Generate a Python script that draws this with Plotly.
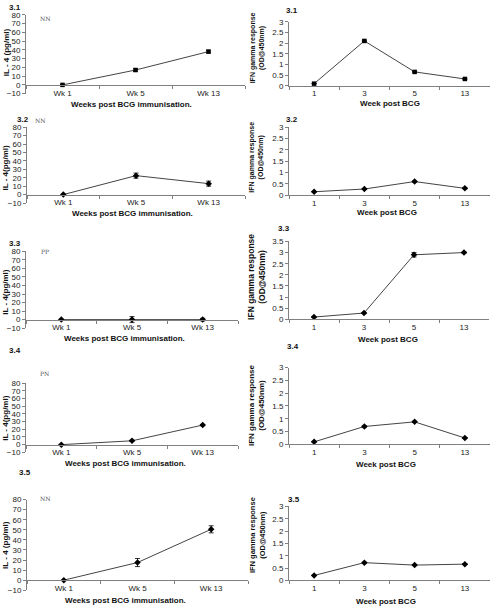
import plotly.graph_objects as go

W, H = 499, 611

# ---------------- data ----------------
il4_weeks = ["Wk 1", "Wk 5", "Wk 13"]
ifn_weeks = ["1", "3", "5", "13"]
panel_ids = ["3.1", "3.2", "3.3", "3.4", "3.5"]
group_tags = ["NN", "NN", "PP", "PN", "NN"]

il4_31 = [0, 17, 38]
il4_31_err = [0, 1.5, 1.5]
il4_32 = [0, 22.5, 13]
il4_32_err = [0, 3, 3]
il4_33 = [0, 0, 0]
il4_33_err = [0, 3.5, 1.5]
il4_34 = [0, 5, 25.5]
il4_34_err = [0, 0.8, 0.8]
il4_35 = [0, 17.5, 50.5]
il4_35_err = [0, 4, 3.5]

ifn_31 = [0.1, 2.1, 0.65, 0.32]
ifn_31_err = [0, 0.03, 0.02, 0.02]
ifn_32 = [0.15, 0.27, 0.6, 0.3]
ifn_32_err = [0, 0.02, 0.02, 0.02]
ifn_33 = [0.1, 0.28, 2.9, 3.0]
ifn_33_err = [0, 0.02, 0.1, 0.02]
ifn_34 = [0.1, 0.7, 0.88, 0.25]
ifn_34_err = [0, 0.03, 0.02, 0.02]
ifn_35 = [0.2, 0.72, 0.62, 0.66]
ifn_35_err = [0, 0.02, 0.02, 0.02]

il4_series = [(il4_31, il4_31_err), (il4_32, il4_32_err), (il4_33, il4_33_err),
              (il4_34, il4_34_err), (il4_35, il4_35_err)]
ifn_series = [(ifn_31, ifn_31_err), (ifn_32, ifn_32_err), (ifn_33, ifn_33_err),
              (ifn_34, ifn_34_err), (ifn_35, ifn_35_err)]

il4_titles = ["IL - 4 (pg/ml)", "IL - 4(pg/ml)", "IL - 4(pg/ml)", "IL - 4(pg/ml)", "IL - 4 (pg/ml)"]
il4_xtitle = "Weeks post BCG immunisation."
ifn_ytitle = "IFN gamma response<br>(OD@450nm)"
ifn_xtitle = "Week post BCG"
il4_range = [-10, 80]
ifn_ranges = [[0, 3], [0, 3], [0, 3.5], [0, 3], [0, 3]]

# ---------------- layout geometry (pixels) ----------------
left_geo = [
    dict(x0=26, x1=245, yt=11, yb=91, xt=(131, 102), yy=49, lab=(15, 4), tag=(45, 15)),
    dict(x0=27, x1=245, yt=125, yb=202, xt=(132, 213), yy=166, lab=(23, 117), tag=(40, 118)),
    dict(x0=26, x1=238, yt=251, yb=329, xt=(125, 339), yy=292, lab=(15, 243), tag=(45, 251)),
    dict(x0=26, x1=238, yt=385, yb=455, xt=(126, 466), yy=420, lab=(15, 352), tag=(44, 375)),
    dict(x0=27, x1=248, yt=503, yb=595, xt=(126, 605), yy=549, lab=(25, 476), tag=(45, 502)),
]
right_geo = [
    dict(x0=289, x1=490, yt=18, yb=83, xt=(390, 101), yy=45, lab=(292, 7), fs=7),
    dict(x0=289, x1=490, yt=125, yb=194, xt=(387, 212), yy=156, lab=(292, 117), fs=7),
    dict(x0=289, x1=489, yt=241, yb=320, xt=(388, 341), yy=277, lab=(284, 228), fs=8.5),
    dict(x0=289, x1=490, yt=369, yb=447, xt=(386, 467), yy=408, lab=(293, 348), fs=8),
    dict(x0=289, x1=490, yt=510, yb=585, xt=(386, 606), yy=539, lab=(294, 503), fs=7.5),
]

FONT = "Arial, Liberation Sans, sans-serif"
AX = "#808080"
LINE = "#444444"


def PX(x):
    return x / W


def PY(y):
    return 1 - y / H


fig = go.Figure()
annotations = []
layout = {}
n = 0


def add_panel(xcats, yvals, yerr, yrange, geo, symbol, ytitle, yt_font, xtitle, dtick, free_x):
    global n
    n += 1
    xa = "xaxis" if n == 1 else f"xaxis{n}"
    ya = "yaxis" if n == 1 else f"yaxis{n}"
    xr = "x" if n == 1 else f"x{n}"
    yr = "y" if n == 1 else f"y{n}"
    fig.add_trace(go.Scatter(
        x=xcats, y=yvals, xaxis=xr, yaxis=yr, mode="lines+markers",
        line=dict(color=LINE, width=1),
        marker=dict(symbol=symbol, size=4.5 if symbol == "square" else 5, color="#000000"),
        error_y=dict(type="data", array=yerr, visible=True, color="#000000", thickness=0.8, width=2.5),
        showlegend=False, cliponaxis=False,
    ))
    ydom = [PY(geo["yb"]), PY(geo["yt"])]
    xdom = [PX(geo["x0"]), PX(geo["x1"])]
    if free_x:
        zero_pos = ydom[0] + (0 - yrange[0]) / (yrange[1] - yrange[0]) * (ydom[1] - ydom[0])
        xpos = dict(anchor="free", position=zero_pos)
    else:
        xpos = dict(anchor=yr)
    layout[xa] = dict(
        domain=xdom, type="category", categoryorder="array", categoryarray=xcats,
        range=[-0.5, len(xcats) - 0.5], tickson="boundaries",
        showline=True, linecolor=AX, linewidth=1, ticks="outside", ticklen=3,
        tickcolor=AX, tickwidth=1, showgrid=False, zeroline=False,
        tickfont=dict(family=FONT, size=8, color="#222"), fixedrange=True, **xpos,
    )
    layout[ya] = dict(
        domain=ydom, anchor=xr, range=yrange, dtick=dtick, tick0=0,
        showline=True, linecolor=AX, linewidth=1, ticks="outside", ticklen=3,
        tickcolor=AX, tickwidth=1, showgrid=False, zeroline=False,
        tickfont=dict(family=FONT, size=8, color="#222"), fixedrange=True,
    )
    annotations.append(dict(
        text=f"<b>{xtitle}</b>", x=PX(geo["xt"][0]), y=PY(geo["xt"][1]),
        xref="paper", yref="paper", showarrow=False, xanchor="center", yanchor="middle",
        font=dict(family=FONT, size=8, color="#111"),
    ))
    annotations.append(dict(
        text=ytitle, x=PX(geo["ytx"]), y=PY(geo["yy"]), textangle=-90,
        xref="paper", yref="paper", showarrow=False, xanchor="center", yanchor="middle",
        font=dict(family=FONT, size=yt_font, color="#111"),
    ))
    annotations.append(dict(
        text=f"<b>{geo['labtext']}</b>", x=PX(geo["lab"][0]), y=PY(geo["lab"][1]),
        xref="paper", yref="paper", showarrow=False, xanchor="center", yanchor="middle",
        font=dict(family=FONT, size=8, color="#111"),
    ))


for i in range(5):
    g = dict(left_geo[i])
    g["ytx"] = 6
    g["labtext"] = panel_ids[i]
    vals, err = il4_series[i]
    add_panel(il4_weeks, vals, err, il4_range, g, "square" if i == 0 else "diamond",
              f"<b>{il4_titles[i]}</b>", 8, il4_xtitle, 10, True)
    annotations.append(dict(
        text=group_tags[i], x=PX(g["tag"][0]), y=PY(g["tag"][1]), xref="paper", yref="paper",
        showarrow=False, xanchor="center", yanchor="middle",
        font=dict(family="DejaVu Serif, serif", size=6, color="#555"),
    ))

    r = dict(right_geo[i])
    r["ytx"] = 257
    r["labtext"] = panel_ids[i]
    vals, err = ifn_series[i]
    add_panel(ifn_weeks, vals, err, ifn_ranges[i], r, "square" if i == 0 else "diamond",
              f"<b>{ifn_ytitle}</b>", r["fs"], ifn_xtitle, 0.5, False)

fig.update_layout(
    width=W, height=H, margin=dict(l=0, r=0, t=0, b=0),
    paper_bgcolor="white", plot_bgcolor="white",
    annotations=annotations, showlegend=False, **layout,
)

fig.write_html(
    "out.html",
    config={"displayModeBar": False},
    post_script="document.body.style.margin='0';document.body.style.padding='0';document.body.style.overflow='hidden';",
)
